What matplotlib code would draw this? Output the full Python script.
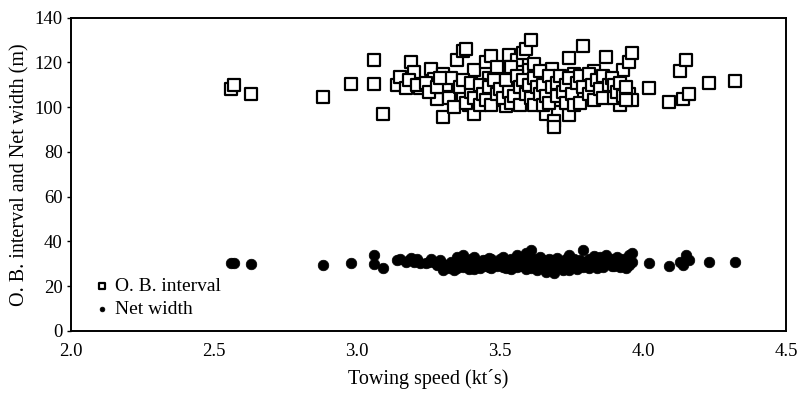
import matplotlib
matplotlib.use("Agg")
import matplotlib.pyplot as plt

plt.rcParams['font.family'] = ['Liberation Serif', 'DejaVu Serif']

# towing speed (kt's) for each tow, with its O.B. interval and net width (m)
speed = [2.56, 2.57, 2.63, 2.88, 2.98, 3.06, 3.06, 3.09, 3.14, 3.15,
         3.17, 3.19, 3.20, 3.22, 3.26, 3.27, 3.28, 3.30, 3.30, 3.33,
         3.35, 3.35, 3.37, 3.38, 3.37, 3.39, 3.41, 3.41, 3.42, 3.45,
         3.46, 3.47, 3.50, 3.51, 3.52, 3.53, 3.55, 3.56, 3.58, 3.59,
         3.59, 3.60, 3.61, 3.61, 3.62, 3.63, 3.66, 3.66, 3.68, 3.69,
         3.69, 3.69, 3.71, 3.72, 3.74, 3.74, 3.76, 3.77, 3.79, 3.79,
         3.80, 3.83, 3.84, 3.87, 3.87, 3.89, 3.92, 3.93, 3.95, 3.95,
         3.96, 3.96, 4.02, 4.09, 4.13, 4.15, 4.14, 4.16, 4.23, 4.32,
         3.31, 3.32, 3.33, 3.34, 3.36, 3.37, 3.38, 3.40, 3.40, 3.41,
         3.43, 3.43, 3.44, 3.45, 3.46, 3.47, 3.48, 3.49, 3.49, 3.50,
         3.51, 3.52, 3.53, 3.54, 3.54, 3.55, 3.56, 3.57, 3.57, 3.58,
         3.59, 3.60, 3.61, 3.62, 3.62, 3.63, 3.64, 3.64, 3.65, 3.65,
         3.66, 3.67, 3.67, 3.68, 3.70, 3.70, 3.71, 3.72, 3.73, 3.73,
         3.74, 3.75, 3.76, 3.77, 3.78, 3.78, 3.79, 3.81, 3.81, 3.82,
         3.83, 3.84, 3.85, 3.86, 3.86, 3.88, 3.89, 3.90, 3.90, 3.91,
         3.92, 3.93, 3.94, 3.94, 3.18, 3.21, 3.24, 3.25, 3.28, 3.29]

ob_interval = [108, 110, 106, 104.5, 110.5, 121, 110.5, 97, 110, 113.5,
               108.5, 120, 115.5, 108.5, 117, 112.5, 103.5, 95.5, 115, 107.5,
               121, 103, 125, 126, 105, 101, 97, 116.5, 108, 120,
               113, 123, 103, 116, 100.5, 123.5, 111, 121, 124, 103,
               126, 116.5, 130, 108, 119.5, 103, 112, 97, 117, 108,
               94, 91, 103, 112, 96.5, 122, 115, 107.5, 104.5, 127.5,
               112, 116, 106, 122.5, 112, 108, 101, 116.5, 106, 120,
               124, 103, 108.5, 102.5, 116, 121, 103.5, 106, 111, 111.5,
               110, 104, 113, 100, 109, 112, 102, 107, 111, 104,
               101, 110, 106, 103, 109, 101, 112, 106, 118, 108,
               104, 112, 107, 102, 118, 105, 114, 101, 109, 112,
               106, 110, 104, 113, 101, 109, 106, 116, 101, 110,
               105, 114, 102, 109, 111, 105, 114, 107, 102, 110,
               113, 106, 101, 111, 114, 102, 109, 106, 115, 110,
               103, 112, 108, 114, 104, 110, 113, 104, 110, 107,
               111, 105, 109, 103, 112, 110, 111, 107, 109, 113]

net_width = [30.5, 30.5, 30, 29.5, 30.5, 34, 30, 28, 31.5, 32,
             31, 32.5, 31, 30.5, 32, 31, 30, 27, 30, 29,
             33, 28, 34, 31, 29, 27.5, 29, 33, 30, 31.5,
             28.5, 32, 30, 33, 28, 31, 29.5, 34, 32.5, 30,
             35, 31, 36, 28, 32, 30.5, 29, 26.5, 31.5, 28,
             26, 27, 29.5, 31, 27, 34, 32, 30, 28.5, 36,
             31, 33.5, 29, 34, 30.5, 29, 28.5, 32, 29.5, 34,
             35, 31, 30.5, 29, 31, 34, 29.5, 31.5, 31, 31,
             29.5, 28, 31, 27, 30.5, 28.5, 31, 29, 32, 27.5,
             30, 28, 31.5, 29, 32.5, 28, 30.5, 29, 31, 32,
             28.5, 30, 31.5, 27.5, 32, 30, 28.5, 31, 29, 33,
             27.5, 30, 32, 29, 31, 27, 33, 30, 28, 31.5,
             29, 32, 27.5, 30, 28, 32.5, 29.5, 27, 30.5, 32,
             28.5, 30, 31, 27.5, 29, 31.5, 30, 28, 32, 29.5,
             30.5, 28, 33, 30, 28.5, 31, 32, 29, 30, 33,
             29.5, 31, 28, 30.5, 31.5, 32, 30.5, 31, 29.5, 31.5]

fig = plt.figure(figsize=(7.98, 3.93), dpi=100)
ax = fig.add_axes([0.089, 0.158, 0.896, 0.797])

ax.scatter(speed, ob_interval, marker='s', s=75, facecolors='white',
           edgecolors='black', linewidths=1.6, label='O. B. interval', zorder=3)
ax.scatter(speed, net_width, marker='o', s=58, facecolors='black',
           edgecolors='black', linewidths=0.5, label='Net width', zorder=3)

ax.set_xlim(2.0, 4.5)
ax.set_ylim(0, 140)
ax.set_xticks([2.0, 2.5, 3.0, 3.5, 4.0, 4.5])
ax.set_xticklabels(['2.0', '2.5', '3.0', '3.5', '4.0', '4.5'])
ax.set_yticks(range(0, 141, 20))
ax.tick_params(axis='x', length=0, pad=9, labelsize=13.5)
ax.tick_params(axis='y', direction='out', length=3, width=1, pad=3, labelsize=13.5)
for sp in ax.spines.values():
    sp.set_linewidth(1.4)

ax.set_xlabel("Towing speed (kt\u00b4s)", fontsize=14.5, labelpad=6)
ax.set_ylabel("O. B. interval and Net width (m)", fontsize=14.5, labelpad=4)

ax.legend(loc='lower left', bbox_to_anchor=(0.005, -0.015), frameon=False,
          markerscale=0.45, handletextpad=0.2, handlelength=1.0,
          labelspacing=0.3, fontsize=14)

fig.savefig("out.png", dpi=100)
